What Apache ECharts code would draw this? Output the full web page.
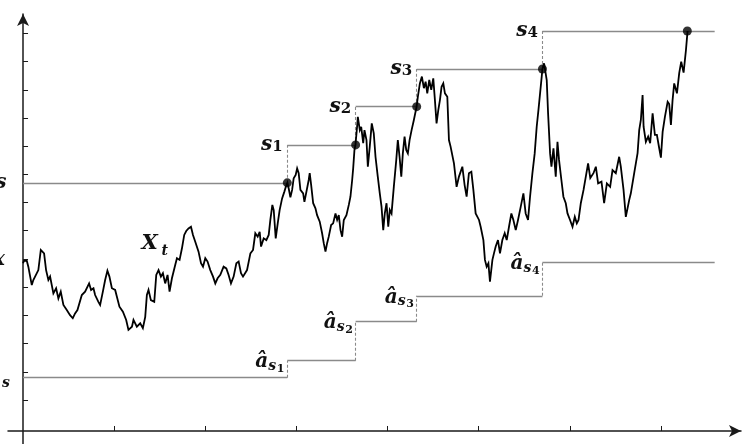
<!DOCTYPE html>
<html>
<head>
<meta charset="utf-8">
<script src="https://cdn.jsdelivr.net/npm/echarts@6/dist/echarts.min.js"></script>
<style>
  html, body { margin: 0; padding: 0; background: #fff; }
  #chart { width: 744px; height: 444px; }
</style>
</head>
<body>
<div id="chart"></div>
<script>
// Sample path of the process X_t (time, value)
const pathT = [
  0.000, 0.011, 0.041, 0.058, 0.096, 0.113, 0.132, 0.168, 0.195, 0.216, 0.231, 0.253, 0.278, 0.297,
  0.333, 0.363, 0.388, 0.414, 0.443, 0.480, 0.516, 0.546, 0.571, 0.597, 0.645, 0.681, 0.700, 0.725,
  0.747, 0.773, 0.791, 0.827, 0.846, 0.876, 0.901, 0.926, 0.948, 0.975, 1.011, 1.030, 1.058, 1.096,
  1.132, 1.157, 1.195, 1.212, 1.249, 1.286, 1.315, 1.341, 1.359, 1.377, 1.403, 1.440, 1.462, 1.487,
  1.513, 1.535, 1.560, 1.586, 1.608, 1.634, 1.670, 1.689, 1.718, 1.744, 1.769, 1.791, 1.816, 1.843,
  1.865, 1.890, 1.926, 1.953, 1.975, 2.000, 2.025, 2.055, 2.085, 2.110, 2.135, 2.165, 2.201, 2.231,
  2.256, 2.282, 2.311, 2.341, 2.366, 2.392, 2.414, 2.458, 2.495, 2.524, 2.549, 2.575, 2.597, 2.612,
  2.641, 2.670, 2.696, 2.714, 2.736, 2.751, 2.773, 2.795, 2.816, 2.843, 2.868, 2.890, 2.901, 2.915,
  2.934, 2.953, 2.970, 2.992, 3.008, 3.025, 3.044, 3.074, 3.088, 3.110, 3.135, 3.146, 3.162, 3.184,
  3.209, 3.227, 3.256, 3.282, 3.300, 3.319, 3.337, 3.355, 3.381, 3.403, 3.429, 3.447, 3.465, 3.484,
  3.502, 3.520, 3.549, 3.575, 3.593, 3.612, 3.623, 3.637, 3.648, 3.666, 3.674, 3.696, 3.711, 3.733,
  3.747, 3.769, 3.784, 3.805, 3.827, 3.849, 3.868, 3.893, 3.915, 3.934, 3.953, 3.970, 3.989, 4.008,
  4.025, 4.044, 4.069, 4.096, 4.113, 4.132, 4.151, 4.168, 4.187, 4.205, 4.223, 4.242, 4.264, 4.289,
  4.319, 4.333, 4.355, 4.377, 4.399, 4.418, 4.436, 4.458, 4.480, 4.502, 4.520, 4.538, 4.557, 4.575,
  4.593, 4.612, 4.630, 4.656, 4.674, 4.692, 4.729, 4.758, 4.784, 4.821, 4.846, 4.868, 4.893, 4.920,
  4.942, 4.967, 5.004, 5.022, 5.052, 5.069, 5.088, 5.107, 5.124, 5.151, 5.168, 5.187, 5.212, 5.234,
  5.260, 5.286, 5.308, 5.333, 5.359, 5.381, 5.407, 5.432, 5.462, 5.491, 5.516, 5.542, 5.564, 5.590,
  5.615, 5.637, 5.656, 5.674, 5.692, 5.700, 5.718, 5.736, 5.747, 5.762, 5.784, 5.799, 5.821, 5.846,
  5.865, 5.882, 5.908, 5.930, 5.956, 5.975, 6.003, 6.030, 6.055, 6.077, 6.096, 6.121, 6.151, 6.176,
  6.201, 6.225, 6.260, 6.286, 6.311, 6.348, 6.377, 6.407, 6.443, 6.469, 6.505, 6.542, 6.560, 6.590,
  6.615, 6.652, 6.670, 6.707, 6.744, 6.762, 6.780, 6.799, 6.810, 6.835, 6.860, 6.882, 6.909, 6.934,
  6.956, 6.981, 7.000, 7.019, 7.044, 7.074, 7.091, 7.110, 7.128, 7.146, 7.176, 7.201, 7.223, 7.249,
  7.275, 7.286, 7.293
];
const pathX = [
  5.92, 6.01, 6.01, 5.80, 5.15, 5.33, 5.40, 5.68, 6.39, 6.41, 6.27, 5.68, 5.33, 5.45,
  4.86, 5.04, 4.68, 4.92, 4.45, 4.27, 4.09, 3.98, 4.15, 4.27, 4.80, 4.92, 4.86, 5.21,
  4.98, 5.04, 4.80, 4.56, 4.45, 4.92, 5.33, 5.66, 5.45, 5.04, 4.98, 4.74, 4.39, 4.21,
  3.92, 3.57, 3.68, 3.92, 3.68, 3.80, 3.63, 4.03, 4.80, 4.98, 4.62, 4.56, 5.51, 5.68,
  5.45, 5.57, 5.21, 5.51, 4.92, 5.39, 5.86, 6.10, 6.04, 6.45, 6.92, 7.06, 7.15, 7.21,
  6.92, 6.68, 6.33, 5.92, 5.80, 6.10, 5.98, 5.68, 5.45, 5.21, 5.39, 5.51, 5.80, 5.74,
  5.51, 5.21, 5.45, 5.92, 5.98, 5.57, 5.45, 5.68, 6.27, 6.39, 6.98, 6.86, 7.03, 6.51,
  6.80, 6.74, 6.92, 7.45, 7.98, 7.80, 6.80, 7.33, 7.80, 8.21, 8.45, 8.68, 8.76, 8.57,
  8.25, 8.51, 8.92, 9.04, 9.27, 9.10, 8.51, 8.39, 8.09, 8.45, 8.86, 9.10, 8.68, 8.04,
  7.86, 7.62, 7.39, 6.98, 6.63, 6.33, 6.63, 6.86, 7.27, 7.33, 7.68, 7.45, 7.62, 7.09,
  6.86, 7.45, 7.62, 7.98, 8.27, 8.86, 9.27, 9.92, 10.10, 10.74, 11.09, 10.62, 10.74, 10.16,
  10.62, 10.27, 9.33, 10.04, 10.86, 10.51, 9.68, 8.98, 8.39, 7.92, 7.09, 7.68, 8.04, 7.21,
  7.80, 7.68, 8.62, 9.57, 10.27, 9.68, 8.98, 9.80, 10.39, 9.92, 9.80, 10.27, 10.62, 10.98,
  11.45, 11.80, 12.27, 12.51, 12.10, 12.33, 11.92, 12.39, 12.04, 12.45, 11.68, 10.86, 11.33, 11.68,
  12.15, 12.27, 11.92, 11.80, 10.27, 10.04, 9.45, 8.62, 8.98, 9.33, 8.68, 8.27, 9.10, 9.15,
  8.51, 7.68, 7.45, 7.21, 6.74, 6.04, 5.80, 5.92, 5.27, 6.04, 6.27, 6.51, 6.74, 6.27,
  6.74, 6.98, 6.74, 7.21, 7.68, 7.45, 7.09, 7.45, 7.92, 8.39, 7.68, 7.45, 8.27, 9.10,
  9.80, 10.74, 11.33, 11.92, 12.51, 12.78, 12.98, 13.04, 12.39, 11.21, 9.80, 9.33, 9.98, 8.98,
  10.21, 9.57, 8.86, 8.27, 8.04, 7.68, 7.45, 7.21, 7.56, 7.33, 7.45, 8.04, 8.51, 8.98,
  9.45, 8.93, 9.10, 9.33, 8.74, 8.80, 8.04, 8.74, 8.62, 9.21, 9.10, 9.68, 9.33, 8.51,
  7.56, 8.15, 8.39, 9.10, 9.81, 10.62, 10.98, 11.86, 10.74, 10.21, 10.39, 10.16, 11.21, 10.45,
  10.45, 9.99, 9.65, 10.56, 11.09, 11.62, 11.54, 10.80, 11.68, 12.27, 11.92, 12.63, 13.04, 12.65,
  13.45, 13.87, 14.12
];

// Stopping times s_k (edges of the staircases) and running levels
const stepT   = [0, 2.90, 3.65, 4.32, 5.70, 7.59];
const hitT    = [2.90, 3.65, 4.32, 5.70, 7.29];
const sLevels = [8.76, 10.10, 11.45, 12.78, 14.12];
const aLevels = [1.88, 2.48, 3.86, 4.77, 5.94];
const subIdx  = ['1', '2', '3', '4'];

// Axis tick positions
const xTicks = [1, 2, 3, 4, 5, 6, 7];
const yTicks = [1.09, 2.09, 3.08, 4.08, 5.08, 6.07, 7.07, 8.06, 9.06, 10.05, 11.05, 12.04, 13.04, 14.03];

// Start value label level and process label anchor
const x0Level = 6.04;
const processLabel = [1.30, 6.60];

const path = pathT.map((t, i) => [t, pathX[i]]);
const hits = hitT.map((t, i) => [t, sLevels[i]]);

function staircase(levels) {
  const solid = [], dashed = [];
  for (let i = 0; i < levels.length; i++) {
    solid.push({ coords: [[stepT[i], levels[i]], [stepT[i + 1], levels[i]]] });
    if (i < levels.length - 1) {
      dashed.push({ coords: [[stepT[i + 1], levels[i]], [stepT[i + 1], levels[i + 1]]] });
    }
  }
  return { solid, dashed };
}
const upper = staircase(sLevels);
const lower = staircase(aLevels);

const chart = echarts.init(document.getElementById('chart'), null, { renderer: 'canvas' });

const axisCommon = {
  type: 'value',
  axisLine: {
    show: true, onZero: true,
    symbol: ['none', 'arrow'], symbolSize: [9, 12],
    lineStyle: { color: '#1a1a1a', width: 1.5 }
  },
  axisTick: { show: true, inside: true, length: 5, lineStyle: { color: '#1a1a1a', width: 1 } },
  axisLabel: { show: false },
  splitLine: { show: false }
};

chart.setOption({
  animation: false,
  backgroundColor: '#fff',
  grid: { left: 8, right: 3, top: 14, bottom: 0, containLabel: false },
  xAxis: Object.assign({}, axisCommon, {
    min: -0.165, max: 7.879,
    axisTick: Object.assign({}, axisCommon.axisTick, { customValues: xTicks })
  }),
  yAxis: Object.assign({}, axisCommon, {
    min: -0.459, max: 14.72,
    axisTick: Object.assign({}, axisCommon.axisTick, { customValues: yTicks })
  }),
  series: [
    {
      type: 'lines', coordinateSystem: 'cartesian2d', silent: true, z: 2,
      lineStyle: { color: '#8a8a8a', width: 1.3, type: 'solid', opacity: 1 },
      data: upper.solid.concat(lower.solid)
    },
    {
      type: 'lines', coordinateSystem: 'cartesian2d', silent: true, z: 2,
      lineStyle: { color: '#8a8a8a', width: 1.1, type: [3, 2], opacity: 1 },
      data: upper.dashed.concat(lower.dashed)
    },
    {
      type: 'line', data: path, showSymbol: false, silent: true, z: 3,
      lineStyle: { color: '#000', width: 1.8, join: 'miter', miterLimit: 4 }
    },
    {
      type: 'scatter', data: hits, symbol: 'circle', symbolSize: 9, silent: true, z: 4,
      itemStyle: { color: '#000' }
    }
  ]
});

// Math-style labels
const FONT = "'DejaVu Serif', serif";
function glyph(x, y, text, size, align, italic, bold) {
  return {
    type: 'text', x: x, y: y, silent: true, z: 10,
    style: {
      text: text, fontFamily: FONT, fontSize: size,
      fontStyle: italic ? 'italic' : 'normal', fontWeight: bold ? 'bold' : 'normal',
      fill: '#111', align: align, textAlign: align,
      verticalAlign: 'middle', textVerticalAlign: 'middle'
    }
  };
}
const px = (t, v) => chart.convertToPixel({ gridIndex: 0 }, [t, v]);

const labels = [];
for (let i = 1; i <= 4; i++) {
  const [ux, uy] = px(stepT[i], sLevels[i]);
  labels.push(glyph(ux - 15, uy, 's', 20, 'right', true, true));
  labels.push(glyph(ux - 15, uy + 2.5, subIdx[i - 1], 15, 'left', false, true));
  const [lx, ly] = px(stepT[i], aLevels[i]);
  labels.push(glyph(lx - 19, ly + 1.5, '\u00e2', 20, 'right', true, true));
  labels.push(glyph(lx - 19, ly + 5.5, 's', 14, 'left', true, true));
  labels.push(glyph(lx - 10.5, ly + 8.5, subIdx[i - 1], 11, 'left', false, true));
}
const [xlx, xly] = px(processLabel[0], processLabel[1]);
labels.push(glyph(xlx, xly, 'X', 21, 'left', true, true));
labels.push(glyph(xlx + 20, xly + 7, 't', 14, 'left', true, true));

// Level labels to the left of the vertical axis (partly outside the canvas)
const [, y0u] = px(0, sLevels[0]);
labels.push(glyph(6.5, y0u, 's', 20, 'right', true, true));
const [, y0x] = px(0, x0Level);
labels.push(glyph(5, y0x, 'x', 20, 'right', true, true));
const [, y0a] = px(0, aLevels[0]);
labels.push(glyph(1.5, y0a + 1.5, '\u00e2', 20, 'right', true, true));
labels.push(glyph(10, y0a + 6, 's', 14, 'right', true, true));

chart.setOption({ graphic: { elements: labels } });
</script>
</body>
</html>
